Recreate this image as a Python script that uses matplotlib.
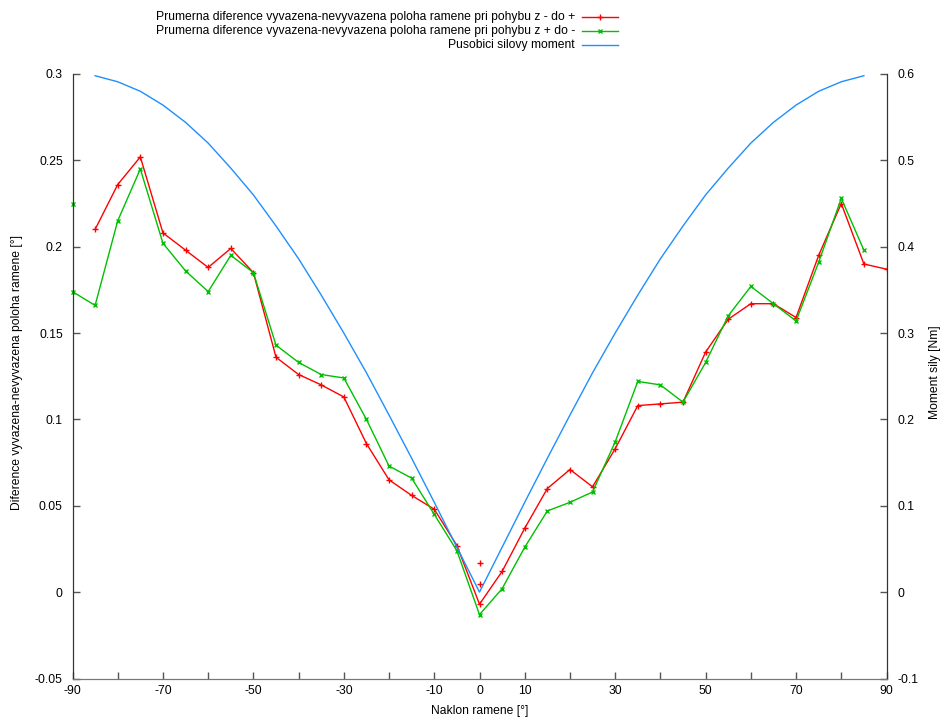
import matplotlib
matplotlib.use("Agg")
import matplotlib.pyplot as plt
from matplotlib.lines import Line2D
from matplotlib.ticker import FixedLocator, FixedFormatter

plt.rcParams['font.family'] = ['Liberation Sans', 'DejaVu Sans']

# naklon ramene [deg]
angles = [-90, -85, -80, -75, -70, -65, -60, -55, -50, -45, -40, -35, -30, -25, -20, -15, -10, -5,
          0, 5, 10, 15, 20, 25, 30, 35, 40, 45, 50, 55, 60, 65, 70, 75, 80, 85, 90]

# z - do +  (red), starts at -85
red_x = angles[1:]
red_y = [0.210, 0.236, 0.252, 0.208, 0.198, 0.188, 0.199, 0.185, 0.136, 0.126, 0.120, 0.113, 0.086,
         0.065, 0.056, 0.048, 0.027, -0.007, 0.012, 0.037, 0.060, 0.071, 0.061, 0.083, 0.108, 0.109,
         0.110, 0.139, 0.158, 0.167, 0.167, 0.159, 0.195, 0.225, 0.190, 0.187]
red_extra_x = [0, 0]
red_extra_y = [0.017, 0.0045]

# z + do -  (green), ends at 85
green_x = angles[:-1]
green_y = [0.174, 0.166, 0.215, 0.245, 0.202, 0.186, 0.174, 0.195, 0.185, 0.143, 0.133, 0.126, 0.124,
           0.100, 0.073, 0.066, 0.045, 0.024, -0.013, 0.002, 0.026, 0.047, 0.052, 0.058, 0.087, 0.122,
           0.120, 0.110, 0.133, 0.160, 0.177, 0.167, 0.157, 0.191, 0.228, 0.198]
green_extra_x = [-90]
green_extra_y = [0.225]

# pusobici silovy moment [Nm] (right axis)
moment_x = angles[1:-1]
moment_y = [0.598, 0.591, 0.580, 0.564, 0.544, 0.520, 0.491, 0.460, 0.424, 0.386, 0.344, 0.300, 0.254,
            0.205, 0.155, 0.104, 0.052, 0.000, 0.052, 0.104, 0.155, 0.205, 0.254, 0.300, 0.344, 0.386,
            0.424, 0.460, 0.491, 0.520, 0.544, 0.564, 0.580, 0.591, 0.598]

xticks = list(range(-90, 91, 10))
xtick_labels = ['-90', '', '-70', '', '-50', '', '-30', '', '-10', '0', '10', '', '30', '', '50', '', '70', '', '90']
yticks = [-0.05, 0, 0.05, 0.1, 0.15, 0.2, 0.25, 0.3]
ytick_labels = ['-0.05', '0', '0.05', '0.1', '0.15', '0.2', '0.25', '0.3']
y2ticks = [-0.1, 0, 0.1, 0.2, 0.3, 0.4, 0.5, 0.6]
y2tick_labels = ['-0.1', '0', '0.1', '0.2', '0.3', '0.4', '0.5', '0.6']

labels = ['Prumerna diference vyvazena-nevyvazena poloha ramene pri pohybu z - do +',
          'Prumerna diference vyvazena-nevyvazena poloha ramene pri pohybu z + do -',
          'Pusobici silovy moment']

RED = '#ff0000'
GREEN = '#00c000'
BLUE = '#1e8fff'
FS = 8.7

fig = plt.figure(figsize=(9.41, 7.2), dpi=100)
ax = fig.add_axes([72.5 / 941, 1 - 678.5 / 720, 814 / 941, 604.5 / 720])
ax2 = ax.twinx()

ax.plot(red_x, red_y, color=RED, lw=1.0, marker='+', ms=4, mew=1.0)
ax.plot(red_extra_x, red_extra_y, ls='none', color=RED, marker='+', ms=4, mew=1.0)
ax.plot(green_x, green_y, color=GREEN, lw=1.0, marker='x', ms=3.5, mew=1.0, clip_on=False)
ax.plot(green_extra_x, green_extra_y, ls='none', color=GREEN, marker='x', ms=3.5, mew=1.0, clip_on=False)
ax2.plot(moment_x, moment_y, color=BLUE, lw=1.0)

ax.set_xlim(-90, 90)
ax.set_ylim(-0.05, 0.3)
ax2.set_ylim(-0.1, 0.6)

ax.xaxis.set_major_locator(FixedLocator(xticks))
ax.xaxis.set_major_formatter(FixedFormatter(xtick_labels))
ax.yaxis.set_major_locator(FixedLocator(yticks))
ax.yaxis.set_major_formatter(FixedFormatter(ytick_labels))
ax2.yaxis.set_major_locator(FixedLocator(y2ticks))
ax2.yaxis.set_major_formatter(FixedFormatter(y2tick_labels))

for a in (ax, ax2):
    a.spines['top'].set_visible(False)
    a.spines['left'].set_color('#333333')
    a.spines['right'].set_color('#333333')
    a.spines['bottom'].set_color('#777777')
ax.tick_params(axis='x', direction='in', length=5, width=1, color='#555555', labelsize=FS, pad=5)
ax.tick_params(axis='y', direction='in', length=5, width=1, color='#555555', labelsize=FS, pad=7)
ax2.tick_params(axis='y', direction='in', length=5, width=1, color='#555555', labelsize=FS, pad=8)

fig.text(480 / 941, 1 - 711 / 720, 'Naklon ramene [°]', ha='center', va='center', fontsize=FS)
fig.text(17 / 941, 1 - 372 / 720, 'Diference vyvazena-nevyvazena poloha ramene [°]',
         ha='center', va='center', rotation=90, fontsize=FS)
fig.text(935 / 941, 1 - 372 / 720, 'Moment sily [Nm]', ha='center', va='center', rotation=90, fontsize=FS)

# legend, gnuplot style: text right aligned, sample to the right
styles = [dict(color=RED, marker='+', ms=4), dict(color=GREEN, marker='x', ms=3.5), dict(color=BLUE, marker=None)]
for i, (lab, st) in enumerate(zip(labels, styles)):
    yy = 1 - (17 + 14 * i) / 720
    fig.text(575 / 941, yy, lab, ha='right', va='center', fontsize=FS)
    fig.add_artist(Line2D([582 / 941, 618 / 941], [yy, yy], transform=fig.transFigure, color=st['color'], lw=1.0))
    if st['marker']:
        fig.add_artist(Line2D([600 / 941], [yy], transform=fig.transFigure, color=st['color'],
                              marker=st['marker'], ms=st['ms'], mew=1.0, ls='none'))

fig.savefig('out.png', dpi=100)
